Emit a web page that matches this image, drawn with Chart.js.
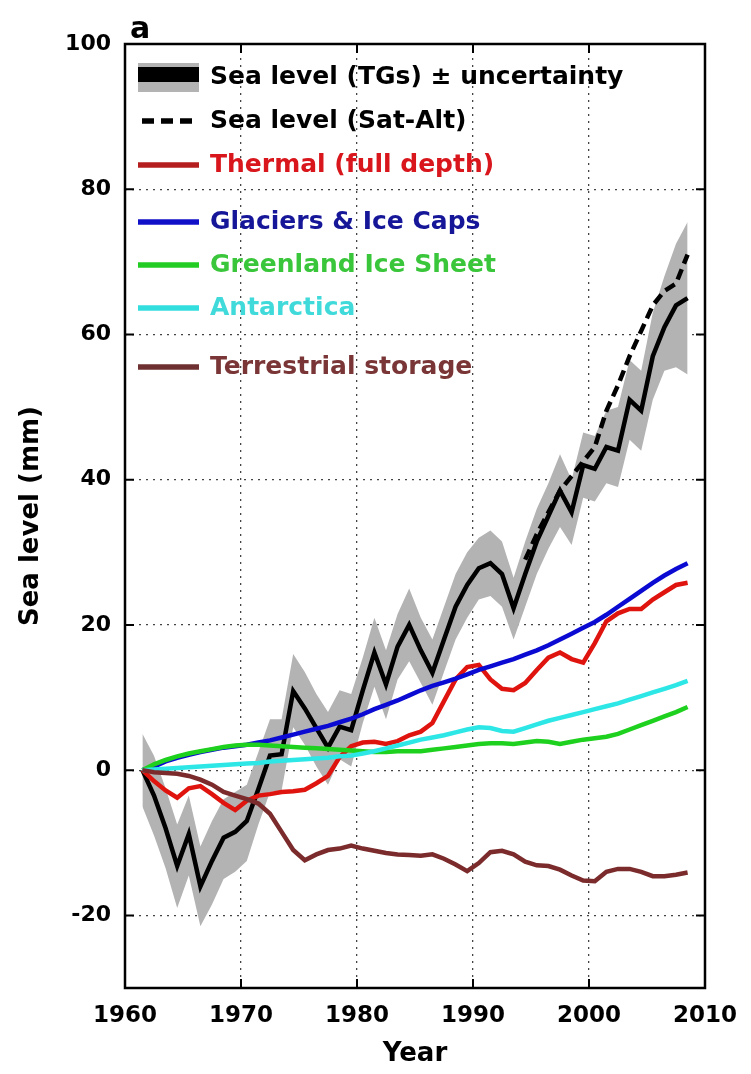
<!DOCTYPE html>
<html lang="en">
<head>
<meta charset="UTF-8">
<title>Sea level budget</title>
<script src="https://cdn.jsdelivr.net/npm/chart.js@4"></script>
<style>
  body { margin: 0; background: #fff; }
  #wrap { width: 751px; height: 1074px; }
</style>
</head>
<body>
<div id="wrap"><canvas id="grafico" width="751" height="1074"></canvas></div>
<script>
// annual values, 1961-2008 (plotted at mid-year)
const anos = [1961, 1962, 1963, 1964, 1965, 1966, 1967, 1968, 1969, 1970,
  1971, 1972, 1973, 1974, 1975, 1976, 1977, 1978, 1979, 1980,
  1981, 1982, 1983, 1984, 1985, 1986, 1987, 1988, 1989, 1990,
  1991, 1992, 1993, 1994, 1995, 1996, 1997, 1998, 1999, 2000,
  2001, 2002, 2003, 2004, 2005, 2006, 2007, 2008];

// tide gauges + uncertainty band
const nivelTG = [0, -3.5, -8, -13.2, -8.8, -16, -12.5, -9.3, -8.5, -7,
  -2.6, 2, 2.2, 10.9, 8.5, 5.8, 3.1, 6, 5.5, 11,
  16.2, 11.8, 17, 20, 16.5, 13.4, 18, 22.5, 25.5, 27.8,
  28.5, 27, 22.3, 27, 31.5, 35, 38.5, 35.5, 42, 41.5,
  44.5, 44, 51, 49.5, 57, 61, 64, 65];
const tgSup = [5, 2, -2.5, -7.5, -3.5, -10.5, -7, -4, -3, -2,
  2.5, 7, 7, 16, 13.5, 10.5, 8, 11, 10.5, 15.5,
  21, 16.5, 21.5, 25, 21, 18, 22.5, 27, 30, 32,
  33, 31.5, 26.5, 31.5, 36, 39.5, 43.5, 40, 46.5, 46,
  49.5, 50, 56.5, 55, 63, 68, 72.5, 75.5];
const tgInf = [-5, -9, -13.5, -19, -14.5, -21.5, -18.5, -15, -14, -12.5,
  -7.5, -3, -2.8, 5.9, 3.5, 0.5, -2, 1.5, 0.5, 6.5,
  11.5, 7, 12.5, 15, 12, 9, 13.5, 18, 21, 23.5,
  24, 22.5, 18, 22.5, 27, 30.5, 33.5, 31, 37.5, 37,
  39.5, 39, 45.5, 44, 51, 55, 55.5, 54.5];

// satellite altimetry
const anosSat = [1994, 1995, 1996, 1997, 1998, 1999, 2000, 2001,
  2002, 2003, 2004, 2005, 2006, 2007, 2008];
const nivelSat = [29, 32.5, 35.5, 38.5, 40.5, 42.5, 44.5, 49.5,
  53, 57, 60.5, 64, 66, 67, 71];

const termico = [0, -1.5, -2.8, -3.8, -2.5, -2.2, -3.3, -4.5, -5.5, -4.2,
  -3.5, -3.3, -3, -2.9, -2.7, -1.8, -0.8, 1.8, 3.3, 3.8,
  3.9, 3.6, 4, 4.8, 5.3, 6.5, 9.5, 12.5, 14.2, 14.5,
  12.5, 11.2, 11, 12, 13.8, 15.5, 16.2, 15.3, 14.8, 17.5,
  20.5, 21.6, 22.2, 22.2, 23.5, 24.5, 25.5, 25.8];
const geleiras = [0, 0.5, 1.2, 1.7, 2.1, 2.5, 2.8, 3.1, 3.3, 3.5,
  3.8, 4.1, 4.5, 4.9, 5.3, 5.7, 6.1, 6.6, 7.1, 7.7,
  8.4, 9, 9.6, 10.3, 11, 11.6, 12.1, 12.6, 13.2, 13.8,
  14.3, 14.8, 15.3, 15.9, 16.5, 17.2, 18, 18.8, 19.6, 20.4,
  21.4, 22.5, 23.6, 24.7, 25.8, 26.8, 27.7, 28.5];
const groenlandia = [0, 0.8, 1.4, 1.9, 2.3, 2.6, 2.9, 3.2, 3.4, 3.5,
  3.5, 3.4, 3.3, 3.2, 3.1, 3, 2.9, 2.8, 2.7, 2.6,
  2.5, 2.5, 2.6, 2.6, 2.6, 2.8, 3, 3.2, 3.4, 3.6,
  3.7, 3.7, 3.6, 3.8, 4, 3.9, 3.6, 3.9, 4.2, 4.4,
  4.6, 5, 5.6, 6.2, 6.8, 7.4, 8, 8.7];
const antartida = [0, 0.1, 0.2, 0.3, 0.4, 0.5, 0.6, 0.7, 0.8, 0.9,
  1, 1.2, 1.3, 1.4, 1.5, 1.6, 1.7, 1.9, 2, 2.3,
  2.6, 3, 3.4, 3.8, 4.2, 4.5, 4.8, 5.2, 5.6, 5.9,
  5.8, 5.4, 5.3, 5.8, 6.3, 6.8, 7.2, 7.6, 8, 8.4,
  8.8, 9.2, 9.7, 10.2, 10.7, 11.2, 11.7, 12.3];
const terrestre = [0, -0.3, -0.4, -0.5, -0.8, -1.3, -2, -3, -3.5, -4,
  -4.6, -6, -8.5, -11, -12.4, -11.6, -11, -10.8, -10.4, -10.8,
  -11.1, -11.4, -11.6, -11.7, -11.8, -11.6, -12.2, -13, -13.9, -12.8,
  -11.3, -11.1, -11.6, -12.6, -13.1, -13.2, -13.7, -14.5, -15.2, -15.3,
  -14, -13.6, -13.6, -14, -14.6, -14.6, -14.4, -14.1];

const ticksX = [1960, 1970, 1980, 1990, 2000, 2010];
const ticksY = [-20, 0, 20, 40, 60, 80, 100];

const legendas = ['Sea level (TGs) \u00b1 uncertainty', 'Sea level (Sat-Alt)',
  'Thermal (full depth)', 'Glaciers & Ice Caps', 'Greenland Ice Sheet',
  'Antarctica', 'Terrestrial storage'];

const fonte = '"DejaVu Sans", sans-serif';

function pontos(xs, ys) {
  return xs.map((a, i) => ({ x: a + 0.5, y: ys[i] }));
}

function linha(dados, cor, ordem, extra) {
  return Object.assign({
    data: pontos(anos, dados),
    borderColor: cor,
    borderWidth: 4.5,
    pointRadius: 0,
    fill: false,
    order: ordem
  }, extra || {});
}

// box, inward ticks, panel letter and the legend
const moldura = {
  id: 'moldura',
  afterDraw(chart) {
    const { ctx, chartArea: a, scales: { x, y } } = chart;
    ctx.save();
    ctx.strokeStyle = '#000';
    ctx.lineWidth = 2;
    ctx.beginPath();
    x.ticks.forEach(t => {
      const px = x.getPixelForValue(t.value);
      ctx.moveTo(px, a.bottom); ctx.lineTo(px, a.bottom - 9);
      ctx.moveTo(px, a.top); ctx.lineTo(px, a.top + 9);
    });
    y.ticks.forEach(t => {
      const py = y.getPixelForValue(t.value);
      ctx.moveTo(a.left, py); ctx.lineTo(a.left + 9, py);
      ctx.moveTo(a.right, py); ctx.lineTo(a.right - 9, py);
    });
    ctx.stroke();
    ctx.lineWidth = 2.5;
    ctx.strokeRect(a.left, a.top, a.right - a.left, a.bottom - a.top);

    ctx.fillStyle = '#000';
    ctx.font = 'bold 30px ' + fonte;
    ctx.textBaseline = 'alphabetic';
    ctx.textAlign = 'left';
    ctx.fillText('a', 130, 38);

    // legend
    const linhasY = [77, 121, 165, 222, 265, 308, 367];
    const coresLinha = ['#000', '#000', '#b41e1e', '#1010c8', '#22cc22', '#33dede', '#6e3030'];
    const coresTexto = ['#000', '#000', '#d8161c', '#161699', '#3ac63a', '#40dada', '#7a3636'];
    const x0 = 138, x1 = 199;
    ctx.font = 'bold 25px ' + fonte;
    ctx.textBaseline = 'middle';
    legendas.forEach((txt, i) => {
      const ly = linhasY[i];
      if (i === 0) {
        ctx.fillStyle = '#b3b3b3';
        ctx.fillRect(x0, ly - 14, x1 - x0, 29);
        ctx.fillStyle = '#000';
        ctx.fillRect(x0, ly - 10, x1 - x0, 15);
      } else {
        ctx.beginPath();
        ctx.strokeStyle = coresLinha[i];
        ctx.lineWidth = 5.5;
        ctx.setLineDash(i === 1 ? [12, 7] : []);
        ctx.moveTo(i === 1 ? x0 + 4 : x0, ly);
        ctx.lineTo(x1, ly);
        ctx.stroke();
        ctx.setLineDash([]);
      }
      ctx.fillStyle = coresTexto[i];
      ctx.fillText(txt, 210, ly);
    });
    ctx.restore();
  }
};

const ctx = document.getElementById('grafico');

new Chart(ctx, {
  type: 'line',
  data: {
    datasets: [
      { data: pontos(anos, tgInf), borderWidth: 0, pointRadius: 0, fill: false, order: 10 },
      { data: pontos(anos, tgSup), borderWidth: 0, pointRadius: 0, fill: '-1',
        backgroundColor: '#b3b3b3', order: 9 },
      linha(nivelTG, '#000', 8),
      { data: pontos(anosSat, nivelSat), borderColor: '#000', borderWidth: 4.5,
        borderDash: [11, 6], pointRadius: 0, fill: false, order: 7 },
      linha(termico, '#e0140e', 6),
      linha(geleiras, '#0a0ad2', 5),
      linha(groenlandia, '#1fd11f', 4),
      linha(antartida, '#2de6e6', 3),
      linha(terrestre, '#7b2b2b', 2)
    ]
  },
  options: {
    responsive: false,
    animation: false,
    layout: { padding: { top: 44, right: 36, left: 0, bottom: 0 } },
    plugins: { legend: { display: false }, tooltip: { enabled: false } },
    scales: {
      x: {
        type: 'linear',
        min: 1960,
        max: 2010,
        afterBuildTicks: s => { s.ticks = ticksX.map(v => ({ value: v })); },
        afterFit: s => { s.height = 86; },
        grid: { color: '#444', lineWidth: 1.3, drawTicks: false },
        border: { display: false, dash: [2, 5] },
        ticks: { color: '#000', padding: 14, font: { family: fonte, size: 23, weight: 'bold' },
          callback: v => String(v) },
        title: { display: true, text: 'Year', color: '#000', padding: { top: 0, bottom: 4 },
          font: { family: fonte, size: 26, weight: 'bold' } }
      },
      y: {
        min: -30,
        max: 100,
        afterBuildTicks: s => { s.ticks = ticksY.map(v => ({ value: v })); },
        afterFit: s => { s.width = 125; },
        grid: { color: '#444', lineWidth: 1.3, drawTicks: false },
        border: { display: false, dash: [2, 5] },
        ticks: { color: '#000', padding: 14, font: { family: fonte, size: 22, weight: 'bold' },
          callback: v => String(v) },
        title: { display: true, text: 'Sea level (mm)', color: '#000', padding: { top: 16, bottom: 0 },
          font: { family: fonte, size: 26, weight: 'bold' } }
      }
    }
  },
  plugins: [moldura]
});
</script>
</body>
</html>
